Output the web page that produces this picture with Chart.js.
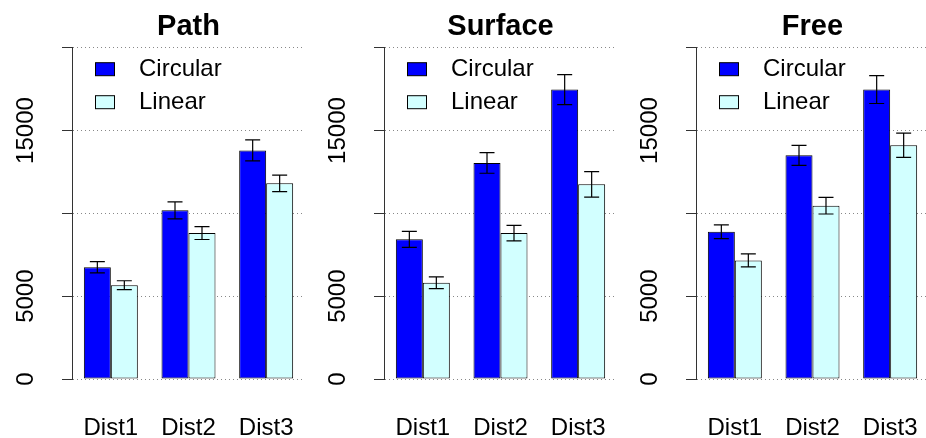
<!DOCTYPE html>
<html>
<head>
<meta charset="utf-8">
<script src="https://cdn.jsdelivr.net/npm/chart.js@4.4.1/dist/chart.umd.min.js"></script>
<style>
html, body { margin: 0; padding: 0; background: #fff; width: 926px; height: 438px; overflow: hidden; }
.panel { position: absolute; top: 0; width: 312px; height: 438px; }
</style>
</head>
<body>
<div class="panel" style="left:0px"><canvas id="path" width="312" height="438"></canvas></div>
<div class="panel" style="left:312px"><canvas id="surface" width="312" height="438"></canvas></div>
<div class="panel" style="left:624px"><canvas id="free" width="312" height="438"></canvas></div>
<script>
var dists = ['Dist1', 'Dist2', 'Dist3'];
var seriesNames = ['Circular', 'Linear'];
var seriesColors = ['#0000ff', '#d2ffff'];
var yTickLabels = [0, 5000, 15000]; // 10000 and 20000 have no label in the original

// Path
var pathCircular = [6750, 10180, 13800];
var pathCircularErr = [340, 510, 630];
var pathLinear = [5660, 8810, 11810];
var pathLinearErr = [270, 390, 500];
// Surface
var surfaceCircular = [8430, 13040, 17470];
var surfaceCircularErr = [480, 620, 910];
var surfaceLinear = [5810, 8810, 11750];
var surfaceLinearErr = [360, 470, 770];
// Free
var freeCircular = [8890, 13500, 17470];
var freeCircularErr = [420, 600, 840];
var freeLinear = [7160, 10460, 14110];
var freeLinearErr = [390, 500, 730];

var fontFam = "'Liberation Sans', Arial, Helvetica, sans-serif";

// error bars with small caps, drawn on top of the bars
var errorBarPlugin = {
    id: 'errorBars',
    afterDatasetsDraw: function (chart) {
        var ctx = chart.ctx;
        var y = chart.scales.y;
        ctx.save();
        ctx.strokeStyle = '#000';
        ctx.lineWidth = 1.2;
        chart.data.datasets.forEach(function (ds, di) {
            var meta = chart.getDatasetMeta(di);
            meta.data.forEach(function (bar, i) {
                var top = y.getPixelForValue(ds.data[i] + ds.errors[i]);
                var bot = y.getPixelForValue(ds.data[i] - ds.errors[i]);
                ctx.beginPath();
                ctx.moveTo(bar.x, top); ctx.lineTo(bar.x, bot);
                ctx.moveTo(bar.x - 7.5, top); ctx.lineTo(bar.x + 7.5, top);
                ctx.moveTo(bar.x - 7.5, bot); ctx.lineTo(bar.x + 7.5, bot);
                ctx.stroke();
            });
        });
        ctx.restore();
    }
};

// legend inside the plot, top left, like R's bty="n"; title centred over the plot region
var boxLegendPlugin = {
    id: 'boxLegend',
    afterDraw: function (chart) {
        var ctx = chart.ctx;
        var a = chart.chartArea;
        ctx.save();
        ctx.fillStyle = '#000';
        ctx.font = 'bold 29px ' + fontFam;
        ctx.textAlign = 'center';
        ctx.textBaseline = 'alphabetic';
        ctx.fillText(chart.options.panelTitle, (a.left + a.right) / 2, 35);

        ctx.font = '24px ' + fontFam;
        ctx.textBaseline = 'middle';
        ctx.textAlign = 'left';
        chart.data.datasets.forEach(function (ds, i) {
            var cy = a.top + 21.5 + i * 33;
            ctx.fillStyle = ds.backgroundColor;
            ctx.fillRect(a.left + 23.5, cy - 6.5, 19, 13);
            ctx.strokeStyle = '#000';
            ctx.lineWidth = 1;
            ctx.strokeRect(a.left + 23.5, cy - 6.5, 19, 13);
            ctx.fillStyle = '#000';
            ctx.fillText(ds.label, a.left + 67, cy);
        });
        ctx.restore();
    }
};

// rotated y tick labels (parallel to the axis)
var yLabelPlugin = {
    id: 'yLabels',
    afterDraw: function (chart) {
        var ctx = chart.ctx;
        var y = chart.scales.y;
        ctx.save();
        ctx.font = '24px ' + fontFam;
        ctx.fillStyle = '#000';
        ctx.textAlign = 'center';
        ctx.textBaseline = 'alphabetic';
        yTickLabels.forEach(function (v) {
            ctx.save();
            ctx.translate(chart.chartArea.left - 38.7, y.getPixelForValue(v));
            ctx.rotate(-Math.PI / 2);
            ctx.fillText(String(v), 0, 0);
            ctx.restore();
        });
        ctx.restore();
    }
};

function makeChart(id, title, circ, circErr, lin, linErr) {
    return new Chart(document.getElementById(id), {
        type: 'bar',
        data: {
            labels: dists,
            datasets: [{
                    label: seriesNames[0],
                    data: circ,
                    errors: circErr,
                    backgroundColor: seriesColors[0],
                    borderColor: '#000',
                    borderWidth: 1,
                    borderSkipped: false
                },
                {
                    label: seriesNames[1],
                    data: lin,
                    errors: linErr,
                    backgroundColor: seriesColors[1],
                    borderColor: '#000',
                    borderWidth: 1,
                    borderSkipped: false
                }
            ]
        },
        options: {
            panelTitle: title,
            responsive: false,
            animation: false,
            devicePixelRatio: 1,
            categoryPercentage: 0.695,
            barPercentage: 1,
            layout: { padding: { left: 0, right: 7, top: 47.7, bottom: 0 } },
            plugins: {
                legend: { display: false },
                tooltip: { enabled: false },
                title: { display: false }
            },
            scales: {
                x: {
                    grid: { display: false, drawTicks: true, tickLength: 35 },
                    border: { display: false },
                    ticks: { color: '#000', font: { family: fontFam, size: 24 }, padding: 0 },
                    afterFit: function (s) { s.height = 59; }
                },
                y: {
                    min: 0,
                    max: 20000,
                    ticks: { stepSize: 5000, display: false },
                    grid: { color: '#888', tickColor: '#333', tickLength: 10, tickBorderDash: [] },
                    border: { display: true, color: '#333', width: 1, dash: [1, 3] },
                    afterFit: function (s) { s.width = 72; }
                }
            }
        },
        plugins: [errorBarPlugin, boxLegendPlugin, yLabelPlugin]
    });
}

makeChart('path', 'Path', pathCircular, pathCircularErr, pathLinear, pathLinearErr);
makeChart('surface', 'Surface', surfaceCircular, surfaceCircularErr, surfaceLinear, surfaceLinearErr);
makeChart('free', 'Free', freeCircular, freeCircularErr, freeLinear, freeLinearErr);
</script>
</body>
</html>
